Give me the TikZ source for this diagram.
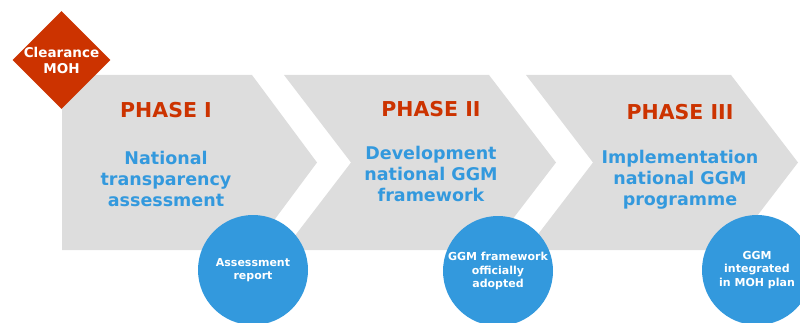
\documentclass[tikz,border=0pt]{standalone}
\usepackage{fontspec}
\setmainfont{DejaVu Sans}
\usetikzlibrary{shapes.geometric}
\definecolor{phasegray}{HTML}{DDDDDD}
\definecolor{mohred}{HTML}{CC3300}
\definecolor{ggmblue}{HTML}{3399DD}

\begin{document}
\begin{tikzpicture}[x=1pt,y=-1pt,
  phase/.style={fill=phasegray},
  title/.style={anchor=base,inner sep=0,text=mohred,font=\bfseries\fontsize{20.5}{24}\selectfont},
  body/.style={inner sep=0,align=center,text=ggmblue,font=\bfseries\fontsize{17.5}{21}\selectfont},
  result/.style={shape=circle,minimum size=110pt,inner sep=0,fill=ggmblue,align=center,text=white,font=\bfseries\fontsize{11}{13.5}\selectfont}]
\useasboundingbox (0,0) rectangle (800,323);
% chevrons
\fill [phase] (62,75) -- (252,75) -- (317,162.5) -- (252,250) -- (62,250) -- cycle;
\fill [phase] (284,75) -- (489,75) -- (556,162.5) -- (489,250) -- (284,250) -- (351,162.5) -- cycle;
\fill [phase] (526,75) -- (731,75) -- (798,162.5) -- (731,250) -- (526,250) -- (593,162.5) -- cycle;

\path (61.5,60) node (clearance) [shape=diamond,minimum size=98pt,inner sep=0,fill=mohred] {};
\path (clearance.center) node (clearancetext) [inner sep=0,align=center,text=white,font=\bfseries\fontsize{13.5}{16}\selectfont] {Clearance\\MOH};

\path (166,118) node (phasei) [title] {PHASE I};
\path (431,117) node (phaseii) [title] {PHASE II};
\path (680,120) node (phaseiii) [title] {PHASE III};

\path (166,179.3) node (assessment) [body] {National\\transparency\\assessment};
\path (431,174.4) node (development) [body] {Development\\national GGM\\framework};
\path (680,179.4) node (implementation) [body] {Implementation\\national GGM\\programme};

\path (253,270) node (report) [result] {Assessment\\report};
\path (498,271) node (adopted) [result] {GGM framework\\officially\\adopted};
\path (757,270) node (integrated) [result] {GGM\\integrated\\in MOH plan};
\end{tikzpicture}
\end{document}
